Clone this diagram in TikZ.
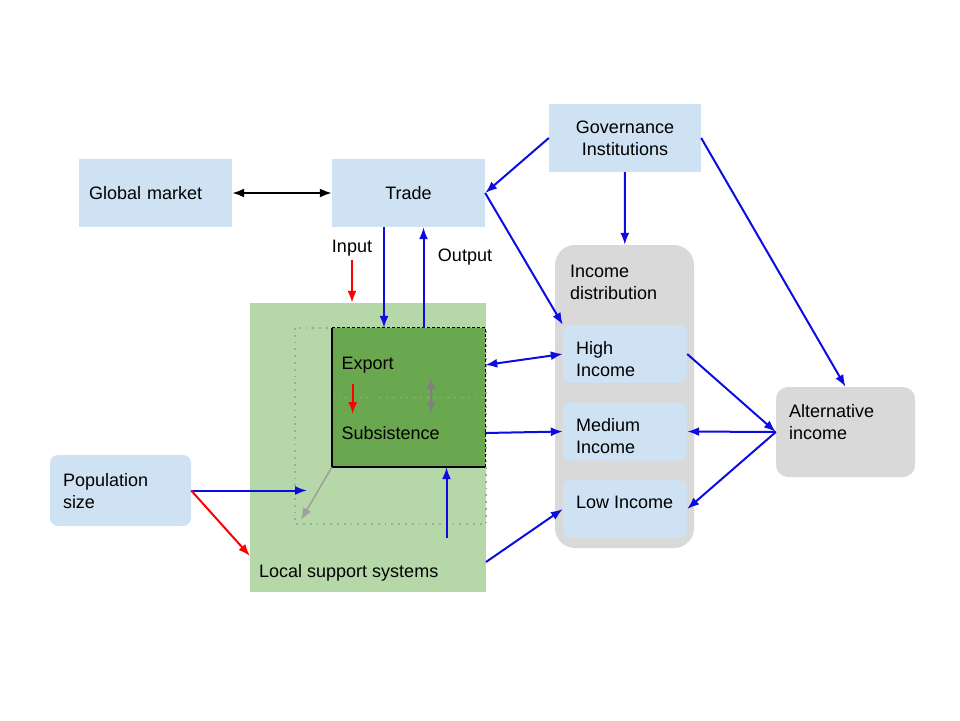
\documentclass[tikz,border=0pt]{standalone}
\usepackage{fontspec}
\setmainfont{Liberation Sans}
\usetikzlibrary{positioning,arrows.meta}

\definecolor{boxblue}{RGB}{207,226,243}
\definecolor{boxgray}{RGB}{217,217,217}
\definecolor{lightgreen}{RGB}{182,215,168}
\definecolor{darkgreen}{RGB}{106,168,79}
\definecolor{arrowblue}{RGB}{12,12,225}

\begin{document}
\begin{tikzpicture}[x=1pt,y=-1pt,font=\fontsize{18}{22}\selectfont,
    >={Latex[length=12pt,width=9pt]},
    box/.style={fill=boxblue,minimum width=153pt,minimum height=68pt,inner sep=0pt},
    subbox/.style={fill=boxblue,minimum width=124pt,minimum height=58pt,rounded corners=8pt},
    graybox/.style={fill=boxgray,minimum width=139pt,inner sep=0pt},
    txt/.style={inner sep=0pt,align=left},
    dotline/.style={gray!70,line width=1.8pt,dash pattern=on 1.8pt off 5pt},
    flow/.style={->,arrowblue,line width=2pt}]
    \useasboundingbox (0,0) rectangle (960,720);

    \node[box,text width=133pt,inner xsep=10pt,align=left] (global) at (155.5,193) {Global market};
    \node[box] (trade) at (408.5,193) {Trade};
    \node[box,minimum width=152pt,align=center] (gov) at (625,138) {Governance\\Institutions};

    \node[graybox,minimum height=303pt,rounded corners=20pt] (dist) at (624.5,396.5) {};
    \node[txt,below right=20pt and 15pt of dist.north west] (distlabel) {Income\\distribution};
    \node[subbox] (high) at (625,354) {};
    \node[txt,below right=16pt and 13pt of high.north west] (highlabel) {High\\Income};
    \node[subbox] (medium) at (625,431.5) {};
    \node[txt,below right=16pt and 13pt of medium.north west] (mediumlabel) {Medium\\Income};
    \node[subbox] (low) at (625,509) {};
    \node[txt,below right=16pt and 13pt of low.north west] (lowlabel) {Low Income};

    \node[graybox,minimum height=90pt,rounded corners=12pt] (alt) at (845.5,432) {};
    \node[txt,below right=17pt and 13pt of alt.north west] (altlabel) {Alternative\\income};

    \node[box,minimum width=141pt,minimum height=71pt,rounded corners=8pt] (pop) at (120.5,490.5) {};
    \node[txt,below right=18pt and 13pt of pop.north west] (poplabel) {Population\\size};

    % local system
    \node[fill=lightgreen,minimum width=236pt,minimum height=289pt,inner sep=0pt] (local) at (368,447.5) {};
    \draw[dotline] (295,328) rectangle (486,524);
    \node[fill=darkgreen,minimum width=153pt,minimum height=139pt,inner sep=0pt] (core) at (408.5,397.5) {};
    \draw[dotline] (core.west) -- (core.east);
    \draw[line width=1.5pt] (core.north west) -- (core.south west) -- (core.south east);
    \draw[line width=1pt,dash pattern=on 3pt off 2pt] (core.north west) -- (core.north east) -- (core.south east);
    \node[txt,anchor=west] (export) at (341.5,365) {Export};
    \node[txt,anchor=west] (subs) at (341.5,433) {Subsistence};
    \node[txt,anchor=west] (localtext) at (259,573) {Local support systems};

    \node (input) at (352,248) {Input};
    \node (output) at (465,257) {Output};

    \coordinate (tradein) at ([xshift=-24.5pt]trade.south);
    \coordinate (tradeout) at ([xshift=15pt]trade.south);
    \coordinate (popin) at (307,490.5);
    \coordinate (localin) at (250,556);
    \coordinate (localout) at (486,562);
    \coordinate (supportin) at (446.5,538);
    \coordinate (cornerout) at (301,520);
    \coordinate (shifttop) at (352.7,384);
    \coordinate (shiftbot) at (352.7,414);
    \coordinate (swaptop) at (431,377);
    \coordinate (swapbot) at (431,414);

    \path[<->,line width=2pt] (global) edge (trade);

    \path[flow]
    (gov.west)      edge (trade.east)
    (trade.east)    edge (high.north west)
    (gov)           edge (dist)
    (gov.east)      edge (alt.north)
    (tradein)       edge (tradein |- core.north)
    (tradeout |- core.north) edge (tradeout)
    (export -| core.east) edge [<->] (high.west)
    (subs -| core.east) edge (medium.west)
    (high.east)     edge (alt.west)
    (alt.west)      edge (medium.east)
                    edge (low.east)
    (pop.east)      edge (popin)
    (supportin)     edge (supportin |- core.south)
    (localout)      edge (low.west)
    ;

    \path[->,red,line width=2pt]
    (input)    edge (input |- local.north)
    (pop.east) edge (localin)
    (shifttop) edge (shiftbot)
    ;

    \path[->,gray!75,line width=1.6pt] (core.south west) edge (cornerout);
    \path[<->,gray,line width=2pt] (swaptop) edge (swapbot);
\end{tikzpicture}
\end{document}
